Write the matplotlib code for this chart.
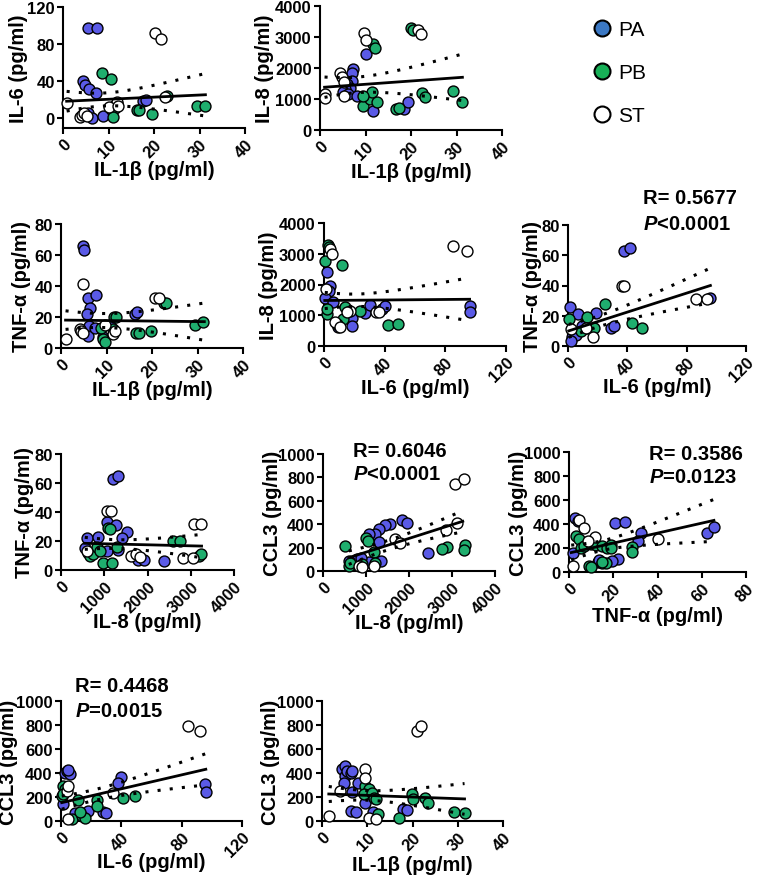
import numpy as np
import matplotlib
matplotlib.use("Agg")
import matplotlib.pyplot as plt
from matplotlib.lines import Line2D

plt.rcParams['font.family'] = ['Liberation Sans', 'DejaVu Sans']
plt.rcParams['font.weight'] = 'bold'
plt.rcParams['mathtext.fontset'] = 'custom'
plt.rcParams['mathtext.it'] = 'Liberation Sans:italic:bold'
plt.rcParams['mathtext.rm'] = 'Liberation Sans:bold'
plt.rcParams['mathtext.bf'] = 'Liberation Sans:bold'

W, H = 757, 879

GROUPS = ["PA", "PB", "ST"]
FACE = {"PA": "#5a5ae6", "PB": "#1fae6e", "ST": "white"}
LEG_FACE = {"PA": "#3b78c4", "PB": "#17b057", "ST": "white"}

# ---------------- data ----------------
# Panel 1: IL-1b (x) vs IL-6 (y)
P1_PA_X = [5.6, 7.4, 4.3, 4.8, 5.8, 7.2, 5.6, 6.3, 8.9, 10.5, 17.5, 18.3]
P1_PA_Y = [97, 97, 40, 36, 31, 27, 5, 0, 2, 10, 18, 19]
P1_PB_X = [8.5, 10.5, 11.1, 11.8, 11.5, 11.0, 16.2, 16.8, 19.6, 22.8, 29.4, 31.3]
P1_PB_Y = [49, 42, 13, 15, 11, 1, 8, 8, 4, 24, 13, 13]
P1_ST_X = [0.8, 20.3, 21.5, 3.8, 4.2, 4.6, 5.3, 11.8, 22.5, 10.2, 12.0]
P1_ST_Y = [16, 92, 85, 1, 3, 5, 2, 17, 23, 12, 13]

# Panel 2: IL-1b (x) vs IL-8 (y)
P2_PA_X = [10.1, 7.3, 7.0, 7.0, 5.9, 6.6, 5.5, 5.1, 6.2, 8.2, 11.7, 18.5, 19.4]
P2_PA_Y = [2450, 1970, 1840, 1590, 1480, 1340, 1320, 1210, 1160, 1100, 620, 690, 890]
P2_PB_X = [20.0, 20.4, 11.6, 12.0, 9.5, 11.0, 11.4, 12.6, 16.8, 17.4, 22.5, 23.0, 29.2, 31.3, 9.5]
P2_PB_Y = [3290, 3210, 2780, 2640, 760, 995, 1210, 890, 690, 720, 1180, 1050, 1260, 890, 1100]
P2_ST_X = [1.0, 1.2, 4.5, 4.9, 5.3, 9.6, 10.0, 21.5, 22.2, 5.3]
P2_ST_Y = [1160, 1020, 1840, 1700, 1560, 3120, 2890, 3230, 3100, 1100]

# Panel 3: IL-1b (x) vs TNF-a (y)
P3_PA_X = [4.9, 5.0, 6.0, 7.8, 6.4, 5.8, 6.2, 6.0, 7.5, 9.3, 10.8, 16.3, 16.8]
P3_PA_Y = [66, 63, 32, 34, 26, 22, 14, 8, 13, 7, 15, 22, 23]
P3_PB_X = [11.6, 12.0, 8.9, 9.3, 9.7, 11.5, 16.4, 17.2, 19.8, 22.6, 23.0, 29.4, 31.3]
P3_PB_Y = [20, 20, 13, 6, 4, 12, 10, 10, 11, 29, 29, 15, 17]
P3_ST_X = [1.1, 4.9, 4.2, 4.5, 4.9, 20.6, 21.5, 11.5, 11.9, 9.7]
P3_ST_Y = [6, 41, 12, 11, 10, 32, 32, 9, 11, 15]

# Panel 4: IL-6 (x) vs IL-8 (y)
P4_PA_X = [2.2, 4.0, 3.5, 0.7, 6.2, 9.5, 18.2, 18.2, 27, 30, 38, 40, 96, 96]
P4_PA_Y = [2420, 1940, 1800, 1550, 1420, 610, 900, 660, 1060, 1330, 1200, 1310, 1290, 1100]
P4_PB_X = [2.9, 3.3, 0.7, 11.6, 2.2, 1.8, 13.8, 23.7, 12.7, 8.8, 42, 49]
P4_PB_Y = [3290, 3210, 2780, 2640, 1040, 1200, 1260, 1140, 880, 716, 694, 727]
P4_ST_X = [4.0, 5.1, 1.5, 85, 94, 34, 36, 17, 15, 7, 10.5]
P4_ST_Y = [3160, 3000, 1850, 3260, 3100, 1120, 1100, 1150, 1100, 770, 610]

# Panel 5: IL-6 (x) vs TNF-a (y)
P5_PA_X = [38, 41.5, 96, 1.3, 7, 19, 9.7, 29, 31, 2.4, 5.3, 2.0]
P5_PA_Y = [63, 65, 32, 25.5, 21, 22, 13, 12, 13, 6, 7, 3.5]
P5_PB_X = [0.9, 25, 12.7, 43, 50, 17.8, 12, 9]
P5_PB_Y = [18, 28, 19, 15, 12, 12, 11.7, 10]
P5_ST_X = [36.5, 38, 86, 94, 2, 16.7, 12]
P5_ST_Y = [40, 40, 31, 31, 11, 6, 12]

# Panel 6: IL-8 (x) vs TNF-a (y)
P6_PA_X = [1210, 1310, 1070, 1270, 1515, 1400, 610, 860, 555, 1055, 1325, 1785, 1915, 2385]
P6_PA_Y = [63, 65, 33, 31, 26, 22, 22, 23, 15, 13, 14, 7, 7, 6]
P6_PB_X = [1090, 1130, 630, 670, 745, 825, 900, 975, 1170, 2590, 2745, 3190, 3245, 1285]
P6_PB_Y = [29, 28, 12, 10, 11, 16, 13, 5, 5, 20, 20, 10, 11, 16]
P6_ST_X = [1070, 1155, 3075, 3245, 1630, 1745, 1825, 2825, 3055, 600]
P6_ST_Y = [40.5, 40.5, 32, 32, 10, 11, 9, 8, 8, 13]

# Panel 7: IL-8 (x) vs CCL3 (y)
P7_PA_X = [1835, 1955, 1550, 1435, 1295, 1215, 1080, 1295, 1355, 1060, 790, 600, 2440, 890]
P7_PA_Y = [434, 409, 400, 391, 363, 314, 314, 249, 86, 77, 100, 86, 157, 109]
P7_PB_X = [520, 605, 635, 905, 1010, 1040, 1180, 1215, 2885, 2765, 3310, 3270]
P7_PB_Y = [214, 43, 66, 57, 286, 257, 163, 66, 206, 186, 220, 177]
P7_ST_X = [3080, 3270, 3115, 2870, 1680, 1800, 830, 905, 1180]
P7_ST_Y = [743, 786, 414, 349, 277, 243, 43, 34, 43]

# Panel 8: TNF-a (x) vs CCL3 (y)
P8_PA_X = [2.5, 4.0, 21, 25.5, 32.6, 31, 62.5, 65.5, 2.0, 22, 19.5, 12.9, 13.6, 14.8]
P8_PA_Y = [447, 427, 405, 413, 321, 260, 321, 377, 162, 112, 92, 84, 98, 78]
P8_PB_X = [3.3, 4.7, 5.5, 7.0, 9.9, 12.4, 15.0, 17.3, 19.0, 18.8, 28.4, 28.4, 9.2, 9.9, 16.6, 15.1]
P8_PB_Y = [302, 274, 204, 218, 232, 223, 218, 204, 223, 204, 209, 168, 50, 42, 78, 84]
P8_ST_X = [4.7, 7.0, 11.9, 40, 1.8, 8.4]
P8_ST_Y = [436, 366, 288, 279, 50, 260]

# Panel 9: IL-6 (x) vs CCL3 (y)
P9_PA_X = [2.7, 3.8, 6.0, 4.9, 40, 38, 95.6, 96.2, 1.5, 9.3, 18, 28, 30]
P9_PA_Y = [403, 417, 389, 422, 367, 319, 306, 242, 139, 69, 83, 75, 69]
P9_PB_X = [1.5, 2.7, 0.4, 1.5, 11.5, 23.7, 23.7, 41, 49, 7, 13.7, 16, 12.6]
P9_PB_Y = [292, 264, 208, 222, 175, 175, 125, 194, 208, 14, 42, 28, 75]
P9_ST_X = [84.5, 92, 34.7, 3.8, 4.9, 4.9]
P9_ST_Y = [792, 750, 236, 250, 292, 14]

# Panel 10: IL-1b (x) vs CCL3 (y)
P10_PA_X = [4.4, 5.1, 5.1, 5.5, 6.3, 6.6, 4.8, 7.9, 6.6, 6.3, 7.6, 9.6, 11.3, 17.9, 18.8]
P10_PA_Y = [436, 458, 375, 417, 403, 417, 319, 314, 242, 83, 75, 153, 75, 97, 92]
P10_PB_X = [9.6, 10.3, 9.2, 11.0, 11.5, 12.0, 19.9, 20.0, 22.8, 23.4, 29.2, 31.6, 12.3, 17.0]
P10_PB_Y = [292, 264, 222, 236, 194, 181, 222, 181, 194, 147, 75, 69, 56, 28]
P10_ST_X = [1.6, 4.0, 21.0, 21.8, 9.6, 9.6, 10.3, 12.0]
P10_ST_Y = [42, 250, 750, 792, 431, 361, 28, 14]

# Regression lines: x start/end, y start/end
REG_X = {1: [0.8, 31.3], 2: [1.0, 31.3], 3: [1.0, 31.5], 4: [0.5, 96], 5: [0.5, 96],
         6: [550, 3250], 7: [600, 3250], 8: [1.0, 65.5], 9: [0.5, 96], 10: [1.5, 31.5]}
REG_Y = {1: [18, 25], 2: [1380, 1700], 3: [18, 17], 4: [1480, 1520], 5: [10, 40],
         6: [18.4, 16.5], 7: [114, 425], 8: [162, 430], 9: [153, 431], 10: [225, 184]}
# 95% confidence band: x of narrowest point, half-width there,
# half-width at the right end of the line
CI_XM = {1: 9, 2: 8, 3: 9, 4: 20, 5: 18, 6: 1300, 7: 1500, 8: 15, 9: 20, 10: 10}
CI_H0 = {1: 7, 2: 250, 3: 4.5, 4: 200, 5: 3.5, 6: 3, 7: 40, 8: 40, 9: 45, 10: 40}
CI_H1 = {1: 23, 2: 750, 3: 12, 4: 700, 5: 11.5, 6: 8, 7: 90, 8: 175, 9: 130, 10: 128}

X_LABEL = {"il1b": "IL-1β (pg/ml)", "il6": "IL-6 (pg/ml)", "il8": "IL-8 (pg/ml)",
           "tnf": "TNF-α (pg/ml)"}
Y_LABEL = {"il6": "IL-6 (pg/ml)", "il8": "IL-8 (pg/ml)", "tnf": "TNF-α (pg/ml)",
           "ccl3": "CCL3 (pg/ml)"}

STATS = {5: ("R= 0.5677", "<0.0001"), 7: ("R= 0.6046", "<0.0001"),
         8: ("R= 0.3586", "=0.0123"), 9: ("R= 0.4468", "=0.0015")}

# panel: (xkey, ykey, data, xticks, yticks, ymin, box[left,right,top,bottom] px,
#         ylabel offset px, xlabel offset px)
PANELS = {
    1: ("il1b", "il6", (P1_PA_X, P1_PA_Y, P1_PB_X, P1_PB_Y, P1_ST_X, P1_ST_Y),
        [0, 10, 20, 30, 40], [0, 40, 80, 120], -11, (63, 245, 8, 129), 44, 42),
    2: ("il1b", "il8", (P2_PA_X, P2_PA_Y, P2_PB_X, P2_PB_Y, P2_ST_X, P2_ST_Y),
        [0, 10, 20, 30, 40], [0, 1000, 2000, 3000, 4000], 0, (320, 502, 7, 131), 55, 41),
    3: ("il1b", "tnf", (P3_PA_X, P3_PA_Y, P3_PB_X, P3_PB_Y, P3_ST_X, P3_ST_Y),
        [0, 10, 20, 30, 40], [0, 20, 40, 60, 80], 0, (61, 243, 225, 349), 39, 42),
    4: ("il6", "il8", (P4_PA_X, P4_PA_Y, P4_PB_X, P4_PB_Y, P4_ST_X, P4_ST_Y),
        [0, 40, 80, 120], [0, 1000, 2000, 3000, 4000], 0, (324, 506, 224, 347), 56, 42),
    5: ("il6", "tnf", (P5_PA_X, P5_PA_Y, P5_PB_X, P5_PB_Y, P5_ST_X, P5_ST_Y),
        [0, 40, 80, 120], [0, 20, 40, 60, 80], 0, (568, 746, 226, 347), 36, 41),
    6: ("il8", "tnf", (P6_PA_X, P6_PA_Y, P6_PB_X, P6_PB_Y, P6_ST_X, P6_ST_Y),
        [0, 1000, 2000, 3000, 4000], [0, 20, 40, 60, 80], 0, (61, 234, 455, 571), 37, 52),
    7: ("il8", "ccl3", (P7_PA_X, P7_PA_Y, P7_PB_X, P7_PB_Y, P7_ST_X, P7_ST_Y),
        [0, 1000, 2000, 3000, 4000], [0, 200, 400, 600, 800, 1000], 0, (323, 495, 455, 572), 51, 52),
    8: ("tnf", "ccl3", (P8_PA_X, P8_PA_Y, P8_PB_X, P8_PB_Y, P8_ST_X, P8_ST_Y),
        [0, 20, 40, 60, 80], [0, 200, 400, 600, 800, 1000], 0, (569, 746, 453, 573), 51, 44),
    9: ("il6", "ccl3", (P9_PA_X, P9_PA_Y, P9_PB_X, P9_PB_Y, P9_ST_X, P9_ST_Y),
        [0, 40, 80, 120], [0, 200, 400, 600, 800, 1000], 0, (61, 242, 702, 822), 52, 41),
    10: ("il1b", "ccl3", (P10_PA_X, P10_PA_Y, P10_PB_X, P10_PB_Y, P10_ST_X, P10_ST_Y),
         [0, 10, 20, 30, 40], [0, 200, 400, 600, 800, 1000], 0, (322, 503, 702, 822), 52, 44),
}
# text positions for stats (left px, R-line center y px, P-line center y px)
STAT_POS = {5: (643, 198, 224), 7: (353, 452, 475), 8: (649, 455, 478), 9: (75, 687, 712)}

fig = plt.figure(figsize=(W / 100, H / 100), dpi=100)

for pid, (xk, yk, d, xt, yt, ymin, (l, r, t, b), ylo, xlo) in PANELS.items():
    ax = fig.add_axes([l / W, 1 - b / H, (r - l) / W, (b - t) / H])
    for gi, g in enumerate(GROUPS):
        ax.scatter(d[2 * gi], d[2 * gi + 1], s=62, facecolor=FACE[g], edgecolor="black",
                   linewidth=1.0, zorder=3, clip_on=False)
    x0, x1 = REG_X[pid]
    y0, y1 = REG_Y[pid]
    xs = np.linspace(x0, x1, 200)
    yh = y0 + (y1 - y0) * (xs - x0) / (x1 - x0)
    xm, h0, h1 = CI_XM[pid], CI_H0[pid], CI_H1[pid]
    k = (h1 ** 2 - h0 ** 2) / (x1 - xm) ** 2
    half = np.sqrt(h0 ** 2 + k * (xs - xm) ** 2)
    ax.plot(xs, yh, color="black", lw=2, zorder=4, clip_on=False)
    ax.plot(xs, yh + half, color="black", lw=2.2, ls=(0, (1, 3)), zorder=4, clip_on=False)
    ax.plot(xs, yh - half, color="black", lw=2.2, ls=(0, (1, 3)), zorder=4, clip_on=False)

    ax.set_xlim(xt[0], xt[-1])
    ax.set_ylim(ymin, yt[-1])
    ax.set_xticks(xt)
    ax.set_yticks(yt)
    ax.set_xticklabels([str(v) for v in xt], rotation=45, ha="right", va="top",
                       rotation_mode="anchor", fontsize=12, fontweight="bold")
    ax.set_yticklabels([str(v) for v in yt], fontsize=12, fontweight="bold")
    for sp in ("top", "right"):
        ax.spines[sp].set_visible(False)
    for sp in ("left", "bottom"):
        ax.spines[sp].set_linewidth(1.5)
    ax.tick_params(width=1.5, length=4.5, pad=1.5)
    ax.set_xlabel(X_LABEL[xk], fontsize=14.5, fontweight="bold")
    ax.set_ylabel(Y_LABEL[yk], fontsize=14.5, fontweight="bold")
    ax.xaxis.set_label_coords(0.5, -xlo / (b - t))
    ax.xaxis.label.set_va("center")
    ax.yaxis.set_label_coords(-ylo / (r - l), 0.5)
    ax.yaxis.label.set_va("center")
    ax.patch.set_alpha(0)

    if pid in STATS:
        rtxt, ptxt = STATS[pid]
        px, ry, py = STAT_POS[pid]
        fig.text(px / W, 1 - ry / H, rtxt, fontsize=14.5, fontweight="bold", va="center", ha="left")
        fig.text(px / W, 1 - py / H, r"$\it{P}$" + ptxt, fontsize=14.5, fontweight="bold",
                 va="center", ha="left")

handles = [Line2D([], [], marker="o", ls="none", markersize=11.5, markerfacecolor=LEG_FACE[g],
                  markeredgecolor="black", markeredgewidth=1.5) for g in GROUPS]
fig.legend(handles, GROUPS, loc="upper left", bbox_to_anchor=(583 / W, 1 - 13 / H),
           frameon=False, prop={"size": 15, "weight": "normal"}, labelspacing=1.15,
           handletextpad=0.3, handlelength=1.0, borderaxespad=0)

fig.savefig("out.png", dpi=100)
